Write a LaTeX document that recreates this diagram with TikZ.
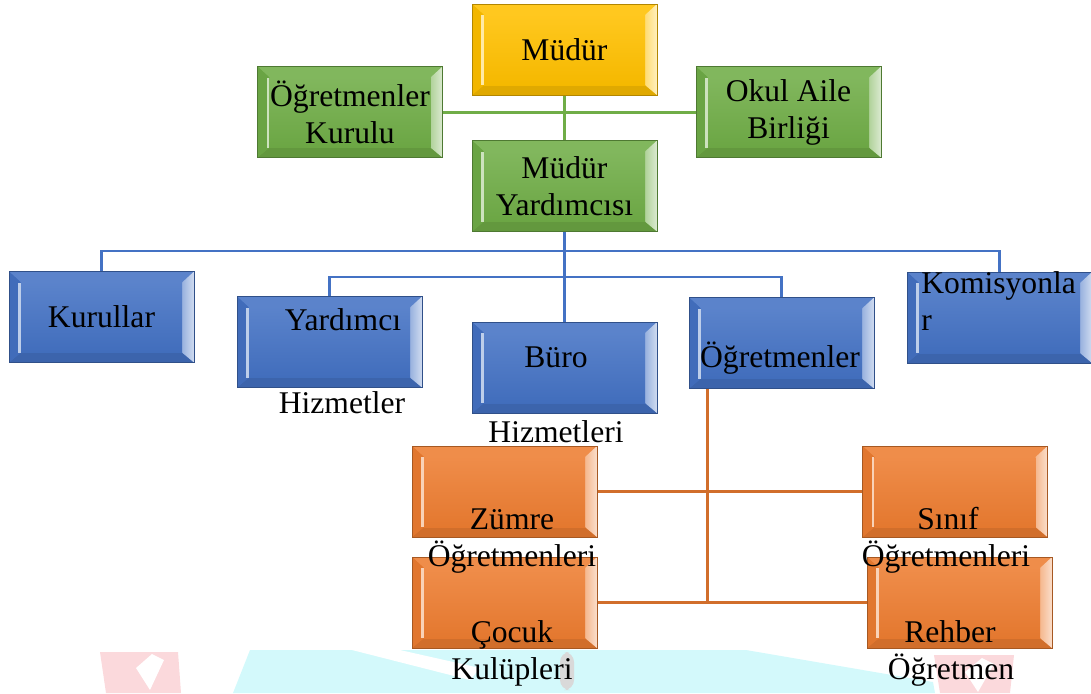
\documentclass[tikz,border=0pt]{standalone}
\usepackage{fontspec}
\setmainfont{Liberation Serif}
\usetikzlibrary{calc,backgrounds}
\definecolor{chiefGold}{HTML}{FFC000}
\definecolor{boardGreen}{HTML}{70AD47}
\definecolor{unitBlue}{HTML}{4472C4}
\definecolor{staffOrange}{HTML}{ED7D31}
\definecolor{markCyan}{HTML}{D3F9FB}
\definecolor{markPink}{HTML}{FBD9DC}
\tikzset{
  bevelbox/.style={rectangle, draw=#1!70!black, line width=.5pt, fill=#1,
    minimum width=92.5pt, minimum height=45.5pt, inner sep=0pt, align=center,
    font=\fontsize{15.8pt}{18.5pt}\selectfont,
    path picture={
      \coordinate (bnw) at (path picture bounding box.north west);
      \coordinate (bne) at (path picture bounding box.north east);
      \coordinate (bsw) at (path picture bounding box.south west);
      \coordinate (bse) at (path picture bounding box.south east);
      \coordinate (inw) at ($(bnw)+(6pt,-5.5pt)$);
      \coordinate (ine) at ($(bne)+(-6pt,-5.5pt)$);
      \coordinate (isw) at ($(bsw)+(6pt,5pt)$);
      \coordinate (ise) at ($(bse)+(-6pt,5pt)$);
      \fill[#1!88!white] (bnw) -- (bne) -- (ine) -- (inw) -- cycle;
      \fill[#1!88!black] (bsw) -- (bse) -- (ise) -- (isw) -- cycle;
      \fill[#1!95!black] (bnw) -- (inw) -- (isw) -- (bsw) -- cycle;
      \shade[left color=#1!55!white, right color=#1!25!white]
        (bne) -- (ine) -- (ise) -- (bse) -- cycle;
      \shade[top color=#1!88!white, bottom color=#1!96!black] (inw) rectangle (ise);
      \draw[#1!35!white, line width=1.2pt] ($(inw)+(-.8pt,0)$) -- ($(isw)+(-.8pt,0)$);
    }},
  chief/.style={bevelbox=chiefGold},
  board/.style={bevelbox=boardGreen},
  unit/.style={bevelbox=unitBlue},
  staff/.style={bevelbox=staffOrange},
  boxtext/.style={anchor=base, inner sep=0pt, font=\fontsize{15.8pt}{18.5pt}\selectfont},
  greenlink/.style={draw=boardGreen, line width=1.5pt},
  bluelink/.style={draw=unitBlue, line width=1.4pt},
  orangelink/.style={draw=staffOrange!88!black, line width=1.6pt}
}

\begin{document}
\begin{tikzpicture}[x=0.5pt,y=-0.5pt]
  \useasboundingbox (0,0) rectangle (1091,693);

  % faint logo in the lower part
  \begin{scope}[on background layer]
    \fill[markCyan] (250,650) -- (746,650) -- (933,682) -- (935,693) -- (233,693) -- cycle;
    \fill[white] (352,650) -- (400,650) -- (480,668) -- (470,680) -- cycle;
    \fill[markPink] (100,652) -- (178,652) -- (181,693) -- (106,693) -- cycle;
    \fill[white] (136,668) -- (152,654) -- (164,660) -- (150,690) -- cycle;
    \fill[markPink] (934,655) -- (1014,655) -- (1010,693) -- (940,693) -- cycle;
    \fill[white] (965,672) -- (982,658) -- (994,664) -- (978,692) -- cycle;
    \fill[gray!30, rounded corners=5pt] (560,652) rectangle (574,690);
  \end{scope}

  % top level
  \node[chief] (mudur) at (564.5,49.5) {Müdür};
  \node[board] (ogkurul) at (350,112) {Öğretmenler\\Kurulu};
  \node[board] (okul) at (788.5,112) {Okul Aile\\Birliği};
  \node[board] (myard) at (564.5,186) {Müdür\\Yardımcısı};

  % units
  \node[unit] (kurullar) at (101.5,317) {Kurullar};
  \node[unit] (yardimci) at (329.5,342) {};
  \node[unit] (buro) at (564.5,367.5) {};
  \node[unit] (ogretmen) at (781.5,343) {};
  \node[unit] (komisyon) at (999.5,317.5) {};

  % staff groups
  \node[staff] (zumre) at (504.5,491.5) {};
  \node[staff] (cocuk) at (504.5,602.5) {};
  \node[staff] (sinif) at (955,491.5) {};
  \node[staff] (rehber) at (959.5,602.5) {};

  % texts that run out of their boxes
  \node[boxtext] (t-yard1) at (343,330) {Yardımcı};
  \node[boxtext] (t-yard2) at (342,413) {Hizmetler};
  \node[boxtext] (t-buro1) at (556,367) {Büro};
  \node[boxtext] (t-buro2) at (556,442) {Hizmetleri};
  \node[boxtext] (t-ogret) at (780,367) {Öğretmenler};
  \node[boxtext, anchor=base west] (t-kom1) at (921,293) {Komisyonla};
  \node[boxtext, anchor=base west] (t-kom2) at (921,330) {r};
  \node[boxtext] (t-zum1) at (512,529) {Zümre};
  \node[boxtext] (t-zum2) at (512,566) {Öğretmenleri};
  \node[boxtext] (t-coc1) at (512,642) {Çocuk};
  \node[boxtext] (t-coc2) at (512,679) {Kulüpleri};
  \node[boxtext] (t-sin1) at (948,529) {Sınıf};
  \node[boxtext] (t-sin2) at (946,566) {Öğretmenleri};
  \node[boxtext] (t-reh1) at (950,642) {Rehber};
  \node[boxtext] (t-reh2) at (951,679) {Öğretmen};

  % connectors
  \begin{scope}[on background layer]
    \draw[greenlink] (mudur.south) -- (myard.north);
    \draw[greenlink] (ogkurul.east) -- (okul.west);

    \coordinate (busA) at (564.5,251);
    \coordinate (busB) at (564.5,277);
    \draw[bluelink] (myard.south) -- (buro.north);
    \draw[bluelink] (kurullar.north) |- (busA) -| (komisyon.north);
    \draw[bluelink] (yardimci.north) |- (busB) -| (ogretmen.north);

    \coordinate (otop) at ($(ogretmen.south west)+(19,0)$);
    \draw[orangelink] (otop) -- (otop |- cocuk.east);
    \draw[orangelink] (zumre.east) -- (sinif.west);
    \draw[orangelink] (cocuk.east) -- (rehber.west);
  \end{scope}
\end{tikzpicture}
\end{document}
